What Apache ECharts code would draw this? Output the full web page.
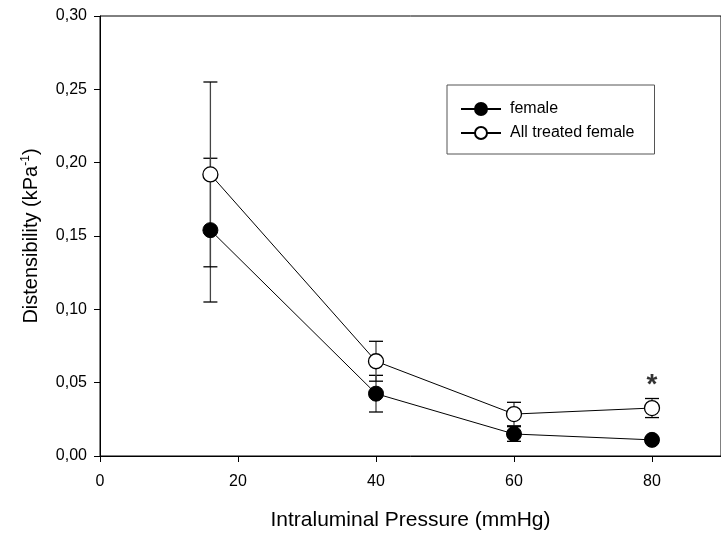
<!DOCTYPE html>
<html>
<head>
<meta charset="utf-8">
<script src="https://cdn.jsdelivr.net/npm/echarts@6/dist/echarts.min.js"></script>
<style>html,body{margin:0;padding:0;background:#fff}#c{width:721px;height:536px}</style>
</head>
<body>
<div id="c"></div>
<script>
var pressure = [16, 40, 60, 80];
var female = [0.154, 0.0425, 0.015, 0.011];
var femaleErr = [0.049, 0.0125, 0.005, 0.002];
var treated = [0.192, 0.0646, 0.0286, 0.0327];
var treatedErr = [0.063, 0.0136, 0.008, 0.0065];
var xTicks = [0, 20, 40, 60, 80];
var sigMarks = [[80, 0.048]];

var FONT = '"Liberation Sans", Arial, sans-serif';

function pairs(xs, ys) { return xs.map(function (x, i) { return [x, ys[i]]; }); }
function errData(xs, ys, es) { return xs.map(function (x, i) { return [x, ys[i] - es[i], ys[i] + es[i]]; }); }

function errRender(params, api) {
  var x = api.value(0);
  var lo = api.coord([x, api.value(1)]);
  var hi = api.coord([x, api.value(2)]);
  var hw = 7;
  var st = { stroke: '#000', lineWidth: 1.3 };
  return {
    type: 'group',
    children: [
      { type: 'line', shape: { x1: hi[0], y1: hi[1], x2: lo[0], y2: lo[1] }, style: { stroke: '#444', lineWidth: 1.3 } },
      { type: 'line', shape: { x1: hi[0] - hw, y1: hi[1], x2: hi[0] + hw, y2: hi[1] }, style: st },
      { type: 'line', shape: { x1: lo[0] - hw, y1: lo[1], x2: lo[0] + hw, y2: lo[1] }, style: st }
    ]
  };
}

var chart = echarts.init(document.getElementById('c'), null, { renderer: 'canvas' });
chart.setOption({
  backgroundColor: '#fff',
  animation: false,
  textStyle: { fontFamily: FONT },
  grid: { left: 100, top: 16, bottom: 79, right: -10, show: true, borderColor: '#000', borderWidth: 1, backgroundColor: 'transparent' },
  legend: {
    orient: 'vertical',
    left: 447, top: 85,
    padding: [16, 20, 13, 13],
    borderColor: '#555', borderWidth: 1,
    itemWidth: 40, itemHeight: 15, itemGap: 8,
    textStyle: { fontFamily: FONT, fontSize: 16, color: '#000', padding: [0, 0, 0, 4] },
    data: ['female', 'All treated female']
  },
  xAxis: {
    type: 'value', min: 0, max: 90, interval: 20,
    name: 'Intraluminal Pressure (mmHg)', nameLocation: 'middle', nameGap: 54,
    nameTextStyle: { fontFamily: FONT, fontSize: 21, color: '#000' },
    axisLine: { show: true, lineStyle: { color: '#000', width: 1 } },
    axisTick: { show: true, length: 6, customValues: xTicks, lineStyle: { color: '#000' } },
    axisLabel: { customValues: xTicks, fontFamily: FONT, fontSize: 16, color: '#000', margin: 18 },
    splitLine: { show: false }
  },
  yAxis: {
    type: 'value', min: 0, max: 0.30, interval: 0.05,
    name: 'Distensibility (kPa{sup|-1})', nameLocation: 'middle', nameGap: 58,
    nameTextStyle: { fontFamily: FONT, fontSize: 20, color: '#000', rich: { sup: { fontFamily: FONT, fontSize: 12, color: '#000', verticalAlign: 'top', padding: [0, 0, 10, 0] } } },
    axisLine: { show: true, lineStyle: { color: '#000', width: 1 } },
    axisTick: { show: true, length: 6, lineStyle: { color: '#000' } },
    axisLabel: { fontFamily: FONT, fontSize: 16, color: '#000', margin: 13, formatter: function (v) { return v.toFixed(2).replace('.', ','); } },
    splitLine: { show: false }
  },
  series: [
    { type: 'custom', name: 'errF', renderItem: errRender, data: errData(pressure, female, femaleErr), z: 1, silent: true },
    { type: 'custom', name: 'errT', renderItem: errRender, data: errData(pressure, treated, treatedErr), z: 1, silent: true },
    {
      type: 'line', name: 'female', data: pairs(pressure, female), z: 3,
      symbol: 'circle', symbolSize: 15, showAllSymbol: true,
      lineStyle: { color: '#000', width: 1 },
      itemStyle: { color: '#000', borderColor: '#000', borderWidth: 1 }
    },
    {
      type: 'line', name: 'All treated female', data: pairs(pressure, treated), z: 3,
      symbol: 'circle', symbolSize: 15, showAllSymbol: true,
      lineStyle: { color: '#000', width: 1 },
      itemStyle: { color: '#fff', borderColor: '#000', borderWidth: 1.3 }
    },
    {
      type: 'scatter', name: 'sig', data: sigMarks, symbol: 'circle', symbolSize: 1, silent: true, z: 4,
      itemStyle: { color: 'rgba(0,0,0,0)' },
      label: { show: true, position: 'inside', formatter: '*', fontFamily: FONT, fontSize: 28, fontWeight: 'bold', color: '#000' }
    }
  ]
});
</script>
</body>
</html>
